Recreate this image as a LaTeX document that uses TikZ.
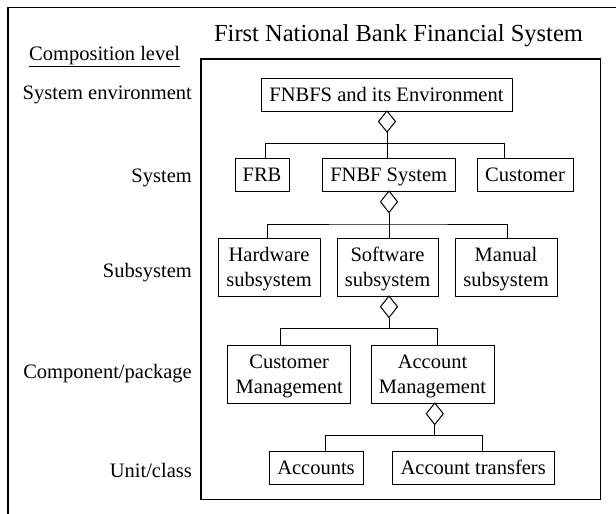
\documentclass[tikz,border=0pt]{standalone}
\usepackage{fontspec}
\setmainfont{Liberation Serif}
\begin{document}
\begin{tikzpicture}[x=1pt,y=-1pt,
  txt/.style={font=\fontsize{20.5}{25}\selectfont},
  box/.style={txt, draw, line width=1pt, inner sep=0pt, align=center,
    text height=19pt, text depth=4.6pt},
  boxtwo/.style={txt, draw, line width=1pt, inner sep=0pt, align=center,
    text height=44pt, text depth=4.6pt},
  levellabel/.style={txt, anchor=base east, inner sep=0pt},
  link/.style={line width=1pt},
  agg/.style={line width=1pt, fill=white},
  frame/.style={line width=1.2pt}]
\useasboundingbox (0,0) rectangle (616,514);

% outer frame (runs off the page on the right and bottom)
\draw[frame] (8,514) -- (8,7.5) -- (616,7.5);

% system boundary
\draw[frame] (201,59) rectangle (600.5,499.5);

% headings
\node[txt, font=\fontsize{24.5}{28}\selectfont, anchor=base, inner sep=0pt] (title) at (398.5,41.5) {First National Bank Financial System};
\node[levellabel, anchor=base west] (comp) at (29,60) {\underline{Composition level}};

% composition levels
\node[levellabel] (lv1) at (192,99.3) {System environment};
\node[levellabel] (lv2) at (192,182.7) {System};
\node[levellabel] (lv3) at (192,277) {Subsystem};
\node[levellabel] (lv4) at (192,378.5) {Component/package};
\node[levellabel] (lv5) at (192,477) {Unit/class};

% elements
\node[box, minimum width=251, minimum height=33] (env) at (386.5,94.5) {FNBFS and its Environment};
\node[box, minimum width=54, minimum height=33] (frb) at (262,174.5) {FRB};
\node[box, minimum width=133, minimum height=33] (fnbf) at (388.7,174.5) {FNBF System};
\node[box, minimum width=96, minimum height=33] (cust) at (525,174.5) {Customer};
\node[boxtwo, minimum width=102, minimum height=58] (hw) at (269,267) {Hardware\\subsystem};
\node[boxtwo, minimum width=101, minimum height=58] (sw) at (387.5,267) {Software\\subsystem};
\node[boxtwo, minimum width=102, minimum height=58] (man) at (506,267) {Manual\\subsystem};
\node[boxtwo, minimum width=123, minimum height=58] (cm) at (289.2,374) {Customer\\Management};
\node[boxtwo, minimum width=123, minimum height=58] (am) at (432.5,374) {Account\\Management};
\node[box, minimum width=94, minimum height=33] (acc) at (316,467.5) {Accounts};
\node[box, minimum width=162, minimum height=33] (at) at (473.2,467.5) {Account transfers};

% aggregation: FNBFS and its Environment
\coordinate (d1) at (387,132);
\draw[agg] (387,111) -- (395.5,121.5) -- (d1) -- (378.5,121.5) -- cycle;
\coordinate (b1) at (387,143.3);
\draw[link] (d1) -- (d1 |- fnbf.north);
\draw[link] (frb.north -| 265.7,0) |- (b1) -| (cust.north -| 504,0);

% aggregation: FNBF System
\coordinate (d2) at (389,212.5);
\draw[agg] (389,191) -- (397.5,201.75) -- (d2) -- (380.5,201.75) -- cycle;
\coordinate (b2) at (389,224);
\draw[link] (d2) -- (d2 |- sw.north);
\draw[link] (hw.north -| 267.7,0) |- (b2) -| (man.north -| 507,0);

% aggregation: Software subsystem
\coordinate (d3) at (389,317.5);
\draw[agg] (389,296) -- (397.5,306.75) -- (d3) -- (380.5,306.75) -- cycle;
\coordinate (b3) at (389,328.7);
\draw[link] (d3) -- (b3);
\draw[link] (cm.north -| 280,0) |- (b3) -| (am.north -| 437.3,0);

% aggregation: Account Management
\coordinate (d4) at (434.8,424.5);
\draw[agg] (434.8,403) -- (443.3,413.75) -- (d4) -- (426.3,413.75) -- cycle;
\coordinate (b4) at (434.8,435.5);
\draw[link] (d4) -- (b4);
\draw[link] (acc.north -| 325.7,0) |- (b4) -| (at.north -| 482.7,0);
\end{tikzpicture}
\end{document}
